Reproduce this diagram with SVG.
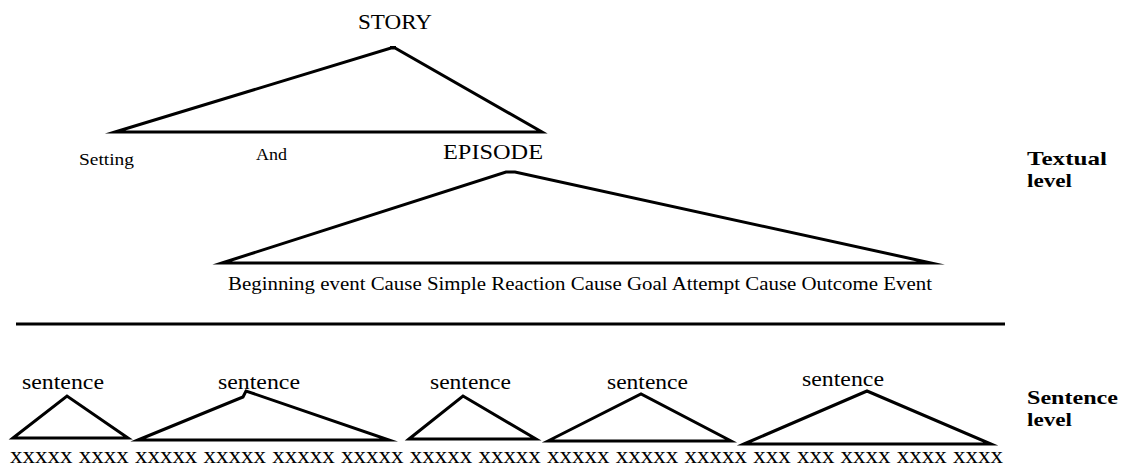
<svg xmlns="http://www.w3.org/2000/svg" width="1125" height="470" viewBox="0 0 1125 470">
<style>
.b{font-weight:bold}
.tri{fill:none;stroke:#000;stroke-width:3;stroke-linejoin:miter;stroke-miterlimit:10}
</style>
<rect width="1125" height="470" fill="#fff"/>
<g font-family="Liberation Serif, Times New Roman, Times, serif" fill="#000">
<g id="story"><text x="358" y="29" font-size="22" textLength="74" lengthAdjust="spacingAndGlyphs">STORY</text></g>
<g id="setting"><text x="79" y="165" font-size="17" textLength="55" lengthAdjust="spacingAndGlyphs">Setting</text></g>
<g id="and"><text x="256" y="160" font-size="17" textLength="31" lengthAdjust="spacingAndGlyphs">And</text></g>
<g id="episode"><text x="443" y="159" font-size="22" textLength="100" lengthAdjust="spacingAndGlyphs">EPISODE</text></g>
<g id="sequence"><text x="228" y="290" font-size="19" textLength="704" lengthAdjust="spacingAndGlyphs">Beginning event Cause Simple Reaction Cause Goal Attempt Cause Outcome Event</text></g>
<g id="textual-level"><text class="b" x="1027" y="165" font-size="19" textLength="80" lengthAdjust="spacingAndGlyphs">Textual</text><text class="b" x="1027" y="187" font-size="19" textLength="45" lengthAdjust="spacingAndGlyphs">level</text></g>
<g id="sentence-level"><text class="b" x="1027" y="404" font-size="19" textLength="91" lengthAdjust="spacingAndGlyphs">Sentence</text><text class="b" x="1027" y="426" font-size="19" textLength="45" lengthAdjust="spacingAndGlyphs">level</text></g>
<g id="sentence1"><text x="22" y="389" font-size="21" textLength="82" lengthAdjust="spacingAndGlyphs">sentence</text></g>
<g id="sentence2"><text x="218" y="389" font-size="21" textLength="82" lengthAdjust="spacingAndGlyphs">sentence</text></g>
<g id="sentence3"><text x="430" y="389" font-size="21" textLength="81" lengthAdjust="spacingAndGlyphs">sentence</text></g>
<g id="sentence4"><text x="607" y="389" font-size="21" textLength="81" lengthAdjust="spacingAndGlyphs">sentence</text></g>
<g id="sentence5"><text x="802" y="386" font-size="21" textLength="82" lengthAdjust="spacingAndGlyphs">sentence</text></g>
<g id="words"><text x="10" y="463" font-size="24" textLength="993" lengthAdjust="spacingAndGlyphs">xxxxx xxxx xxxxx xxxxx xxxxx xxxxx xxxxx xxxxx xxxxx xxxxx xxxxx xxx xxx xxxx xxxx xxxx</text></g>
</g>
<g id="connectors">
<polygon class="tri" points="115,132 391,48 395,48 542,132"/>
<rect x="390" y="46" width="6" height="3" fill="#000"/>
<polygon class="tri" points="222,263 506,172 515,172 931,263"/>
<line x1="16" y1="324" x2="1005" y2="324" stroke="#000" stroke-width="3"/>
<polygon class="tri" points="13,438 67,396 128,438"/>
<polygon class="tri" points="138,440 243,397 246,391 389,440"/>
<polygon class="tri" points="409,439 463,396 536,439"/>
<polygon class="tri" points="548,441 641,394 731,441"/>
<polygon class="tri" points="744,444 867,391 991,444"/>
</g>
</svg>
